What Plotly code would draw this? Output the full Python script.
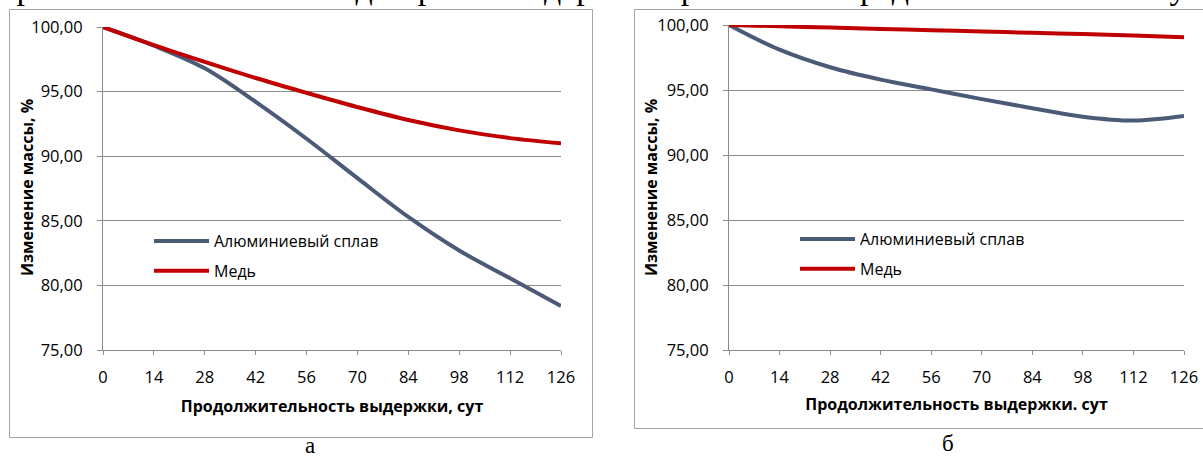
import plotly.graph_objects as go

# ---- data ----
days = [0, 14, 28, 42, 56, 70, 84, 98, 112, 126]
x_ticks = [0, 14, 28, 42, 56, 70, 84, 98, 112, 126]
y_ticks = [75, 80, 85, 90, 95, 100]

# chart (а)
al_a = [100.0, 98.55, 96.8, 94.2, 91.35, 88.3, 85.3, 82.7, 80.55, 78.4]
cu_a = [100.0, 98.6, 97.3, 96.05, 94.9, 93.8, 92.8, 92.0, 91.4, 91.0]
# chart (б)
al_b = [100.0, 98.1, 96.75, 95.8, 95.05, 94.3, 93.6, 92.95, 92.65, 93.0]
cu_b = [100.0, 99.9, 99.8, 99.7, 99.6, 99.5, 99.4, 99.3, 99.2, 99.05]

series_names = ["Алюминиевый сплав", "Медь"]
x_title_a = "Продолжительность выдержки, сут"
x_title_b = "Продолжительность выдержки. сут"
y_title = "Изменение массы, %"
caption = "циркониевого сплава и меди при их выдержке в различных средах в течение 126 суток"
panel_labels = ["а", "б"]

# ---- style ----
W, H = 1203, 457
BLUE = "#4B5B77"
RED = "#C00000"
GRID = "#8A8A8A"
BORDER = "#A3A3A3"
FONT = "Open Sans"


def px_x(p):
    return p / W


def px_y(p):
    return 1 - p / H


fig = go.Figure()

for i, (al, cu) in enumerate([(al_a, cu_a), (al_b, cu_b)]):
    xa = "x" if i == 0 else "x2"
    ya = "y" if i == 0 else "y2"
    lg = "legend" if i == 0 else "legend2"
    for name, vals, col in [(series_names[0], al, BLUE), (series_names[1], cu, RED)]:
        fig.add_trace(go.Scatter(
            x=days, y=vals, name=name, mode="lines",
            line=dict(color=col, width=4, shape="spline", smoothing=1.0),
            xaxis=xa, yaxis=ya, legend=lg, legendgroup=f"{lg}-{name}",
            hoverinfo="skip",
        ))

axis_common_x = dict(
    range=[0, 126], tickmode="array", tickvals=x_ticks,
    ticktext=[str(v) for v in x_ticks],
    showgrid=False, zeroline=False, showline=True, linecolor=GRID, linewidth=1,
    ticks="outside", ticklen=4, tickcolor=GRID,
    tickfont=dict(family=FONT, size=16.5, color="#000000"),
    ticklabelstandoff=8,
    automargin=False, fixedrange=True,
)
axis_common_y = dict(
    range=[75, 100], tickmode="array", tickvals=y_ticks, tickformat=".2f",
    showgrid=True, gridcolor=GRID, gridwidth=1, zeroline=False,
    showline=True, linecolor=GRID, linewidth=1,
    ticks="outside", ticklen=5, tickcolor=GRID,
    tickfont=dict(family=FONT, size=16.5, color="#000000"),
    ticklabelstandoff=11,
    automargin=False, fixedrange=True,
)

title_font = dict(family=FONT, size=16, color="#000000", weight="bold")
legend_font = dict(family=FONT, size=16, color="#000000")

fig.update_layout(
    width=W, height=H,
    margin=dict(l=0, r=0, t=0, b=0),
    paper_bgcolor="white", plot_bgcolor="white",
    separators=", ",
    showlegend=True,
    xaxis=dict(axis_common_x, domain=[px_x(103), px_x(561)], anchor="y",
               title=dict(text=x_title_a, font=title_font, standoff=14)),
    yaxis=dict(axis_common_y, domain=[px_y(350), px_y(27)], anchor="x"),
    xaxis2=dict(axis_common_x, domain=[px_x(729), px_x(1184)], anchor="y2",
                title=dict(text=x_title_b, font=title_font, standoff=12)),
    yaxis2=dict(axis_common_y, domain=[px_y(350), px_y(25)], anchor="x2"),
    legend=dict(x=px_x(149), y=px_y(224), xanchor="left", yanchor="top",
                bgcolor="rgba(0,0,0,0)", traceorder="grouped", tracegroupgap=6,
                itemwidth=55, font=legend_font),
    legend2=dict(x=px_x(795), y=px_y(222), xanchor="left", yanchor="top",
                 bgcolor="rgba(0,0,0,0)", traceorder="grouped", tracegroupgap=6,
                 itemwidth=55, font=legend_font),
)

# y-axis titles
for xc in (27, 651):
    fig.add_annotation(text=y_title, xref="paper", yref="paper",
                       x=px_x(xc), y=px_y(188), xanchor="center", yanchor="middle",
                       textangle=-90, showarrow=False, font=title_font)

# chart area borders
fig.add_shape(type="rect", xref="paper", yref="paper",
              x0=px_x(9.5), x1=px_x(592.5), y0=px_y(437.5), y1=px_y(9.5),
              line=dict(color=BORDER, width=1), fillcolor="rgba(0,0,0,0)", layer="below")
fig.add_shape(type="rect", xref="paper", yref="paper",
              x0=px_x(634.5), x1=px_x(1210), y0=px_y(428.5), y1=px_y(9.5),
              line=dict(color=BORDER, width=1), fillcolor="rgba(0,0,0,0)", layer="below")

# clipped caption line at top of the page
fig.add_annotation(text=caption, xref="paper", yref="paper", x=0.505, y=px_y(8),
                   xanchor="center", yanchor="bottom", showarrow=False,
                   font=dict(family="Liberation Serif", size=34, color="#000000"))

# panel labels
fig.add_annotation(text=panel_labels[0], xref="paper", yref="paper",
                   x=px_x(310), y=px_y(445), xanchor="center", yanchor="middle",
                   showarrow=False, font=dict(family="Liberation Serif", size=23, color="#000000"))
fig.add_annotation(text=panel_labels[1], xref="paper", yref="paper",
                   x=px_x(948), y=px_y(443), xanchor="center", yanchor="middle",
                   showarrow=False, font=dict(family="Liberation Serif", size=23, color="#000000"))

fig.write_html("out.html", config={"displayModeBar": False},
               post_script="document.body.style.margin='0';document.body.style.overflow='hidden';")
